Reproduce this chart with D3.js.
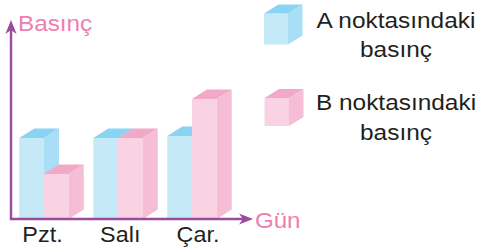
<!DOCTYPE html>
<html>
<head>
<meta charset="utf-8">
<script src="https://cdn.jsdelivr.net/npm/d3@7"></script>
<style>
html,body{margin:0;padding:0;background:#fff;}
svg{display:block;}
text{font-family:"Liberation Sans",Arial,Helvetica,sans-serif;}
</style>
</head>
<body>
<svg id="chart" width="478" height="248"></svg>
<script>
// ---- data ----
const days = ["Pzt.", "Salı", "Çar."];
const seriesKeys = ["A", "B"];
const pressureA = [81, 81, 83];
const pressureB = [45, 81, 120];
const legendLabels = [["A noktasındaki", "basınç"], ["B noktasındaki", "basınç"]];
const yTitle = "Basınç";
const xTitle = "Gün";

// ---- styles ----
const colors = {
  A: {front: "#c6e9f8", top: "#8ad4f3", side: "#a8def6"},
  B: {front: "#f9d3e3", top: "#f2a8c7", side: "#f5bdd6"}
};
const axisColor = "#9a4b9c";
const pink = "#f07db1";
const textColor = "#231f20";
const DX = 15, DY = 9.5;

const svg = d3.select("#chart");

const x0 = d3.scaleBand().domain(days).range([19.3, 216.7]).paddingInner(0.331).paddingOuter(0);
const x1 = d3.scaleBand().domain(seriesKeys).range([0, x0.bandwidth()]).padding(0);
const xLabel = d3.scalePoint().domain(days).range([42.5, 198]);
const y = d3.scaleLinear().domain([0, 130]).range([219, 89]);

const rows = days.map((d, i) => ({day: d, A: pressureA[i], B: pressureB[i]}));

function drawBox(g, x, yTop, w, yBot, c, dx, dy) {
  g.append("rect").attr("x", x).attr("y", yTop).attr("width", w).attr("height", yBot - yTop)
    .attr("fill", c.front);
  g.append("path").attr("d", `M${x},${yTop}L${x + w},${yTop}L${x + w + dx},${yTop - dy}L${x + dx},${yTop - dy}Z`)
    .attr("fill", c.top);
  g.append("path").attr("d", `M${x + w},${yTop}L${x + w + dx},${yTop - dy}L${x + w + dx},${yBot - dy}L${x + w},${yBot}Z`)
    .attr("fill", c.side);
}

const bars = svg.append("g");
rows.forEach(r => {
  seriesKeys.forEach(k => {
    const g = bars.append("g");
    drawBox(g, x0(r.day) + x1(k), y(r[k]), x1.bandwidth(), y(0), colors[k], DX, DY);
  });
});

// ---- axes ----
const ax = svg.append("g");
const ox = 11, oy = y(0);
ax.append("line").attr("x1", ox).attr("y1", oy).attr("x2", ox).attr("y2", 28)
  .attr("stroke", axisColor).attr("stroke-width", 2.4);
ax.append("line").attr("x1", ox - 1.2).attr("y1", oy).attr("x2", 244).attr("y2", oy)
  .attr("stroke", axisColor).attr("stroke-width", 2.4);
ax.append("path").attr("d", `M${ox},20L${ox + 5.6},34L${ox},30L${ox - 5.6},34Z`).attr("fill", axisColor);
ax.append("path").attr("d", `M253,${oy}L239,${oy - 5.6}L243,${oy}L239,${oy + 5.6}Z`).attr("fill", axisColor);

function stretchedText(x, yb, str, size, sx, anchor, fill) {
  svg.append("text")
    .attr("transform", `translate(${x},${yb}) scale(${sx},1)`)
    .attr("text-anchor", anchor)
    .attr("font-size", size)
    .attr("fill", fill)
    .text(str);
}

// axis titles
stretchedText(18, 31, yTitle, 22.5, 1.08, "start", pink);
stretchedText(255, 227.5, xTitle, 22.5, 1.07, "start", pink);

// category labels
days.forEach(d => {
  stretchedText(xLabel(d), 241.5, d, 22.5, 1.04, "middle", textColor);
});

// ---- legend ----
const legendCubes = [{k: "A", x: 264, y: 13.5, w: 24, h: 31}, {k: "B", x: 264.5, y: 98, w: 24.5, h: 28}];
legendCubes.forEach(c => {
  drawBox(svg.append("g"), c.x, c.y, c.w, c.y + c.h, colors[c.k], 14.5, 9);
});
const legendBase = [[27.5, 56.5], [110, 140]];
legendLabels.forEach((lines, i) => {
  lines.forEach((t, j) => {
    stretchedText(396, legendBase[i][j], t, 22, 1.11, "middle", textColor);
  });
});
</script>
</body>
</html>
